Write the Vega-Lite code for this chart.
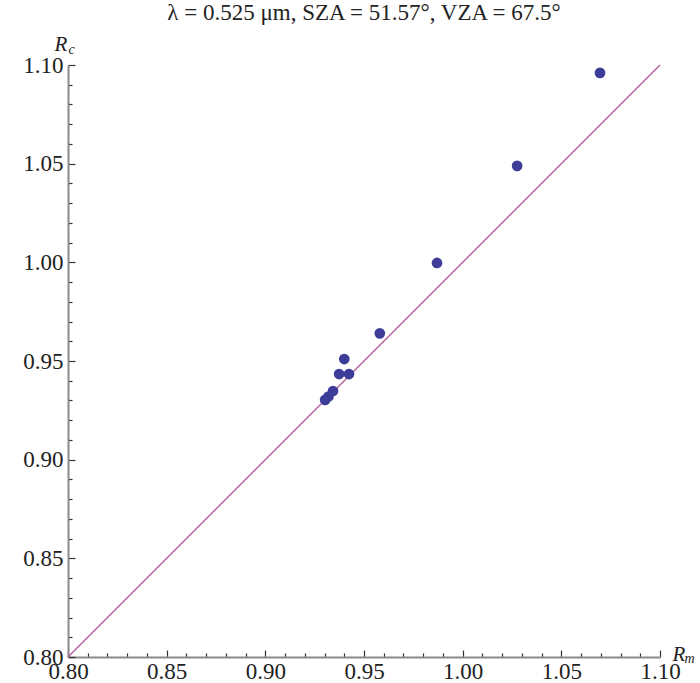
{
  "$schema": "https://vega.github.io/schema/vega-lite/v6.json",
  "width": 592,
  "height": 592,
  "autosize": "none",
  "padding": {"left": 68, "top": 65, "right": 40, "bottom": 26},
  "background": "white",
  "title": {"text": "λ = 0.525 μm, SZA = 51.57°, VZA = 67.5°", "font": "Liberation Serif", "fontSize": 23, "fontWeight": "normal", "color": "#222222", "offset": 8},
  "config": {"view": {"stroke": null}},
  "layer": [
    {
      "data": {"values": [{"Rm": 0.8, "Rc": 0.8}, {"Rm": 1.1, "Rc": 1.1}]},
      "mark": {"type": "line", "color": "#b5639a", "strokeWidth": 1.4},
      "encoding": {
        "x": {"field": "Rm", "type": "quantitative", "scale": {"domain": [0.8, 1.1], "nice": false, "zero": false},
          "axis": {"orient": "bottom", "values": [0.81,0.82,0.83,0.84,0.86,0.87,0.88,0.89,0.91,0.92,0.93,0.94,0.96,0.97,0.98,0.99,1.01,1.02,1.03,1.04,1.06,1.07,1.08,1.09], "labels": false, "domain": false, "grid": false, "tickSize": -4, "tickColor": "#333333", "tickWidth": 1.2,
            "title": "m", "titleFont": "Liberation Serif", "titleFontStyle": "italic", "titleFontWeight": "normal", "titleFontSize": 14, "titleColor": "#222222", "titleAlign": "left", "titleBaseline": "alphabetic", "titleX": 616, "titleY": 5}},
        "y": {"field": "Rc", "type": "quantitative", "scale": {"domain": [0.8, 1.1], "nice": false, "zero": false},
          "axis": {"orient": "left", "values": [0.81,0.82,0.83,0.84,0.86,0.87,0.88,0.89,0.91,0.92,0.93,0.94,0.96,0.97,0.98,0.99,1.01,1.02,1.03,1.04,1.06,1.07,1.08,1.09], "labels": false, "domain": false, "grid": false, "tickSize": -4, "tickColor": "#333333", "tickWidth": 1.2,
            "title": "c", "titleFont": "Liberation Serif", "titleFontStyle": "italic", "titleFontWeight": "normal", "titleFontSize": 14, "titleColor": "#222222", "titleAngle": 0, "titleAlign": "left", "titleBaseline": "alphabetic", "titleX": 0, "titleY": -12}}
      }
    },
    {
      "data": {"values": [
        {"Rm": 1.0696, "Rc": 1.096},
        {"Rm": 1.0276, "Rc": 1.0489},
        {"Rm": 0.987, "Rc": 0.9997},
        {"Rm": 0.958, "Rc": 0.964},
        {"Rm": 0.940, "Rc": 0.951},
        {"Rm": 0.9424, "Rc": 0.9434},
        {"Rm": 0.9374, "Rc": 0.9434},
        {"Rm": 0.9343, "Rc": 0.9348},
        {"Rm": 0.932, "Rc": 0.932},
        {"Rm": 0.9303, "Rc": 0.9303}
      ]},
      "mark": {"type": "circle", "size": 115, "color": "#3d3d99", "opacity": 1},
      "encoding": {
        "x": {"field": "Rm", "type": "quantitative",
          "axis": {"orient": "bottom", "values": [0.8,0.85,0.9,0.95,1.0,1.05,1.1], "format": ".2f", "labelFlush": false, "labelFont": "Liberation Serif", "labelFontSize": 23, "labelColor": "#222222", "labelPadding": 10, "tickSize": -7, "tickColor": "#333333", "tickWidth": 1.2, "domainColor": "#8a8a8a", "domainWidth": 2, "grid": false,
            "title": "R", "titleFont": "Liberation Serif", "titleFontStyle": "italic", "titleFontWeight": "normal", "titleFontSize": 21, "titleColor": "#222222", "titleAlign": "left", "titleBaseline": "alphabetic", "titleX": 604, "titleY": 3}},
        "y": {"field": "Rc", "type": "quantitative",
          "axis": {"orient": "left", "values": [0.8,0.85,0.9,0.95,1.0,1.05,1.1], "format": ".2f", "labelFlush": false, "labelFont": "Liberation Serif", "labelFontSize": 23, "labelColor": "#222222", "labelPadding": 12, "tickSize": -7, "tickColor": "#333333", "tickWidth": 1.2, "domainColor": "#8a8a8a", "domainWidth": 2, "grid": false,
            "title": "R", "titleFont": "Liberation Serif", "titleFontStyle": "italic", "titleFontWeight": "normal", "titleFontSize": 21, "titleColor": "#222222", "titleAngle": 0, "titleAlign": "left", "titleBaseline": "alphabetic", "titleX": -14, "titleY": -15}}
      }
    }
  ],
  "resolve": {"axis": {"x": "independent", "y": "independent"}}
}
